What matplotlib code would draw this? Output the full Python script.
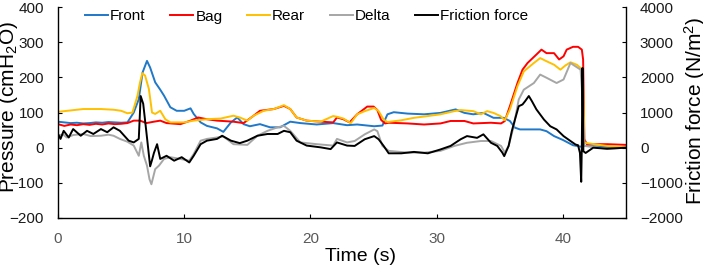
import matplotlib
matplotlib.use("Agg")
import matplotlib.pyplot as plt

plt.rcParams['font.family'] = ['Liberation Sans', 'DejaVu Sans']
plt.rcParams['mathtext.fontset'] = 'custom'
plt.rcParams['mathtext.rm'] = 'Liberation Sans'
plt.rcParams['mathtext.it'] = 'Liberation Sans:italic'

# ---- data (time in s, pressures in cmH2O, friction in N/m^2) ----
front_t = [0, 0.5, 1, 1.5, 2, 2.5, 3, 3.5, 4, 4.5, 5, 5.5, 6, 6.4, 6.7, 7.05, 7.3, 7.7, 8.1, 8.4,
           8.9, 9.4, 10, 10.5, 10.75, 11.3, 11.8, 12.6, 13.1, 13.7, 14.2, 14.7, 15.2, 16, 16.8, 17.6,
           18.4, 19.2, 20.5, 21.8, 22.9, 23.7, 25.05, 25.7, 26.1, 26.6, 27.7, 29, 30.3, 31.5, 32.2,
           32.9, 33.7, 34.5, 35.3, 35.8, 36.2, 36.6, 38.2, 38.7, 39.3, 40, 40.8, 41.4, 41.8, 43.5, 45]
front_v = [74, 72, 70, 71, 69, 70, 72, 71, 73, 72, 71, 72, 100, 138, 214, 247, 228, 186, 165, 148,
           115, 105, 105, 112, 96, 72, 62, 55, 45, 72, 86, 67, 61, 67, 58, 58,
           74, 70, 66, 70, 64, 66, 61, 63, 95, 101, 97, 95, 99, 109, 99,
           95, 99, 85, 85, 76, 57, 52, 52, 47, 33, 22, 7, 3, 5, 2, 2]

bag_t = [0, 0.5, 1, 1.5, 2, 2.5, 3, 3.5, 4, 4.5, 5, 5.5, 6, 6.5, 7, 7.6, 8.1, 8.6, 9.7, 10.5,
         11.1, 11.8, 12.6, 13.9, 14.7, 15.5, 16, 17.1, 17.9, 18.4, 18.9, 19.7, 20.8, 21.8, 22.1,
         22.6, 23.1, 23.7, 24.5, 25, 25.3, 25.6, 25.9, 26.2, 27.7, 29, 30.3, 31.1, 32.2, 32.9, 34.3,
         35.1, 35.4, 35.8, 36.4, 36.8, 37.2, 37.9, 38.3, 38.7, 39.3, 39.7, 40.05, 40.3, 40.8, 41.2,
         41.5, 41.6, 41.7, 41.9, 43.5, 45]
bag_v = [67, 62, 66, 64, 67, 65, 68, 66, 69, 67, 68, 70, 77, 77, 70, 74, 77, 70, 67, 77,
         86, 81, 77, 74, 70, 91, 105, 110, 119, 110, 86, 77, 74, 72, 86,
         81, 72, 95, 117, 117, 107, 79, 69, 71, 69, 66, 69, 76, 76, 69, 71,
         69, 76, 118, 184, 222, 241, 265, 279, 269, 269, 251, 260, 279, 287, 287,
         279, 251, 24, 10, 10, 8]

rear_t = [0, 0.5, 1, 2, 3, 3.4, 4.4, 5, 5.5, 5.9, 6.3, 6.5, 6.68, 6.9, 7.2, 7.45, 7.7, 8.1, 8.5,
          8.9, 10, 10.75, 11.8, 12.9, 13.9, 14.4, 15, 15.5, 16.3, 17.1, 17.9, 18.4, 18.9, 19.7,
          20.8, 21.8, 22.1, 22.6, 23.2, 23.7, 24.3, 25.05, 25.4, 25.8, 26.1, 27.2, 28.2, 29.3,
          30.3, 31.4, 31.9, 32.9, 33.5, 34, 34.5, 35.05, 35.4, 35.8, 36.4, 36.9, 37.7, 38.2, 38.7,
          39.3, 39.8, 40.2, 40.6, 41.1, 41.4, 41.6, 41.7, 43.5, 45]
rear_v = [102, 104, 106, 110, 110, 110, 108, 105, 98, 100, 148, 186, 212, 205, 167, 100, 96, 105, 81,
          72, 72, 77, 81, 83, 91, 86, 77, 91, 105, 110, 121, 110, 86, 77,
          74, 90, 88, 83, 70, 95, 104, 113, 104, 80, 73, 78, 85, 90,
          95, 104, 107, 104, 95, 104, 99, 90, 78, 109, 175, 217, 241, 255, 246,
          236, 222, 234, 243, 236, 227, 175, 14, 5, 2]

delta_t = [0, 0.4, 0.7, 1.2, 2, 2.6, 3.4, 4, 4.4, 4.9, 5.5, 6, 6.4, 6.6, 6.8, 7.05, 7.25, 7.4,
           7.7, 8, 8.4, 8.9, 9.7, 10.4, 10.75, 11.3, 11.8, 12.6, 13.1, 13.9, 15, 15.8, 16.6, 17.4,
           17.9, 18.4, 19.2, 20.5, 21.8, 22.1, 22.9, 23.5, 24.3, 25.05, 25.3, 25.7, 26.2, 27.7, 29,
           30.3, 31.4, 32.4, 33.5, 34.3, 35.1, 35.4, 35.7, 36.1, 36.5, 36.9, 37.7, 38.2, 38.7, 39.5,
           40.05, 40.6, 40.8, 41.4, 41.5, 41.7, 43.5, 45]
delta_v = [34, 38, 29, 36, 39, 33, 34, 37, 34, 25, 17, 6, -23, 15, -23, -51, -90, -104,
           -61, -51, -32, -27, -32, -37, -18, 20, 25, 29, 32, 10, 8, 34, 48, 58,
           62, 48, 15, 10, 6, 25, 15, 19, 38, 52, 47, 5, -9, -14, -14,
           -9, 5, 14, 19, 19, 5, -14, 5, 61, 137, 165, 184, 208, 199, 184,
           194, 241, 236, 222, 170, 5, -3, 0]

friction_t = [0, 0.2, 0.45, 0.85, 1.2, 1.8, 2.3, 2.8, 3.4, 3.9, 4.4, 4.9, 5.6, 6, 6.4, 6.55, 6.75,
              7, 7.3, 7.45, 7.6, 7.85, 8.1, 8.6, 9.2, 9.8, 10.4, 10.75, 11.3, 11.8, 12.6, 13, 13.7,
              14.4, 15, 15.8, 16.6, 17.4, 17.9, 18.4, 18.9, 19.7, 20.8, 21.6, 22.1, 22.9, 23.5, 24.3,
              25.05, 25.4, 25.8, 26.2, 27.2, 28.2, 29.3, 30.3, 31.1, 31.9, 32.4, 33.2, 33.7, 34.3,
              34.8, 35.2, 35.35, 35.7, 35.95, 36.2, 36.5, 36.8, 37, 37.3, 37.55, 37.9, 38.5, 39,
              39.5, 40.05, 40.6, 41, 41.2, 41.35, 41.45, 41.5, 41.55, 41.62, 41.8, 42.4, 43.5, 45]
friction_v = [390, 250, 480, 290, 530, 340, 480, 390, 530, 440, 580, 480, 200, 150, 250, 1470, 1250,
              450, -530, -350, -150, 100, -320, -230, -370, -270, -420, -230, 100, 200, 250, 340, 200,
              130, 200, 340, 390, 390, 480, 440, 200, 60, 10, -40, 150, 60, 50, 240,
              330, 240, 50, -160, -160, -120, -160, -50, 50, 240, 330, 280, 380, 140,
              50, -140, -240, 50, 470, 800, 1180, 1230, 1320, 1470, 1320, 1090, 800, 610,
              520, 330, 190, 90, 70, -150, -970, 100, 2270, -100, -150, 0, -30, 0]

series_names = ["Front", "Bag", "Rear", "Delta", "Friction force"]
series_colors = ["#1f78c8", "#ff0000", "#ffc000", "#a6a6a6", "#000000"]

fig = plt.figure(figsize=(7.03, 2.73), dpi=100)
ax = fig.add_axes([0.0825, 0.2015, 0.808, 0.7725])
ax2 = ax.twinx()

lw = 1.4
h = []
h += ax.plot(front_t, front_v, color=series_colors[0], lw=lw, label=series_names[0])
h += ax.plot(bag_t, bag_v, color=series_colors[1], lw=lw, label=series_names[1])
h += ax.plot(rear_t, rear_v, color=series_colors[2], lw=lw, label=series_names[2])
h += ax.plot(delta_t, delta_v, color=series_colors[3], lw=lw, label=series_names[3])
h += ax2.plot(friction_t, friction_v, color=series_colors[4], lw=lw, label=series_names[4])

ax.set_xlim(0, 45)
ax.set_ylim(-200, 400)
ax2.set_ylim(-2000, 4000)
ax.set_xticks([0, 10, 20, 30, 40])
ax.set_yticks([-200, -100, 0, 100, 200, 300, 400])
ax2.set_yticks([-2000, -1000, 0, 1000, 2000, 3000, 4000])

for a in (ax, ax2):
    a.spines['top'].set_visible(False)
    for s in a.spines.values():
        s.set_linewidth(1.0)
ax.spines['right'].set_visible(False)
ax2.spines['left'].set_visible(False)
ax2.spines['bottom'].set_visible(False)

ax.tick_params(axis='both', direction='in', length=3, pad=10, labelsize=11)
ax.tick_params(axis='x', labelcolor='#595959')
ax.tick_params(axis='y', labelcolor='#1a1a1a')
ax2.tick_params(axis='y', direction='in', length=3, pad=10, labelsize=11, labelcolor='#1a1a1a')

ax.set_xlabel("Time (s)", fontsize=14)
ax.xaxis.set_label_coords(0.533, -0.142)
ax.set_ylabel("Pressure (cmH$_2$O)", fontsize=15)
ax.yaxis.set_label_coords(-0.067, 0.526)
ax2.set_ylabel("Friction force (N/m$^2$)", fontsize=15)
ax2.yaxis.set_label_coords(1.099, 0.507)

ax2.legend(handles=h, loc='upper left', bbox_to_anchor=(85 / 703, 1 - 9.5 / 273),
           bbox_transform=fig.transFigure, ncol=5, frameon=False, fontsize=11,
           borderpad=0, borderaxespad=0, handlelength=1.5, handletextpad=0.15,
           columnspacing=1.6)

fig.savefig("out.png", dpi=100)
